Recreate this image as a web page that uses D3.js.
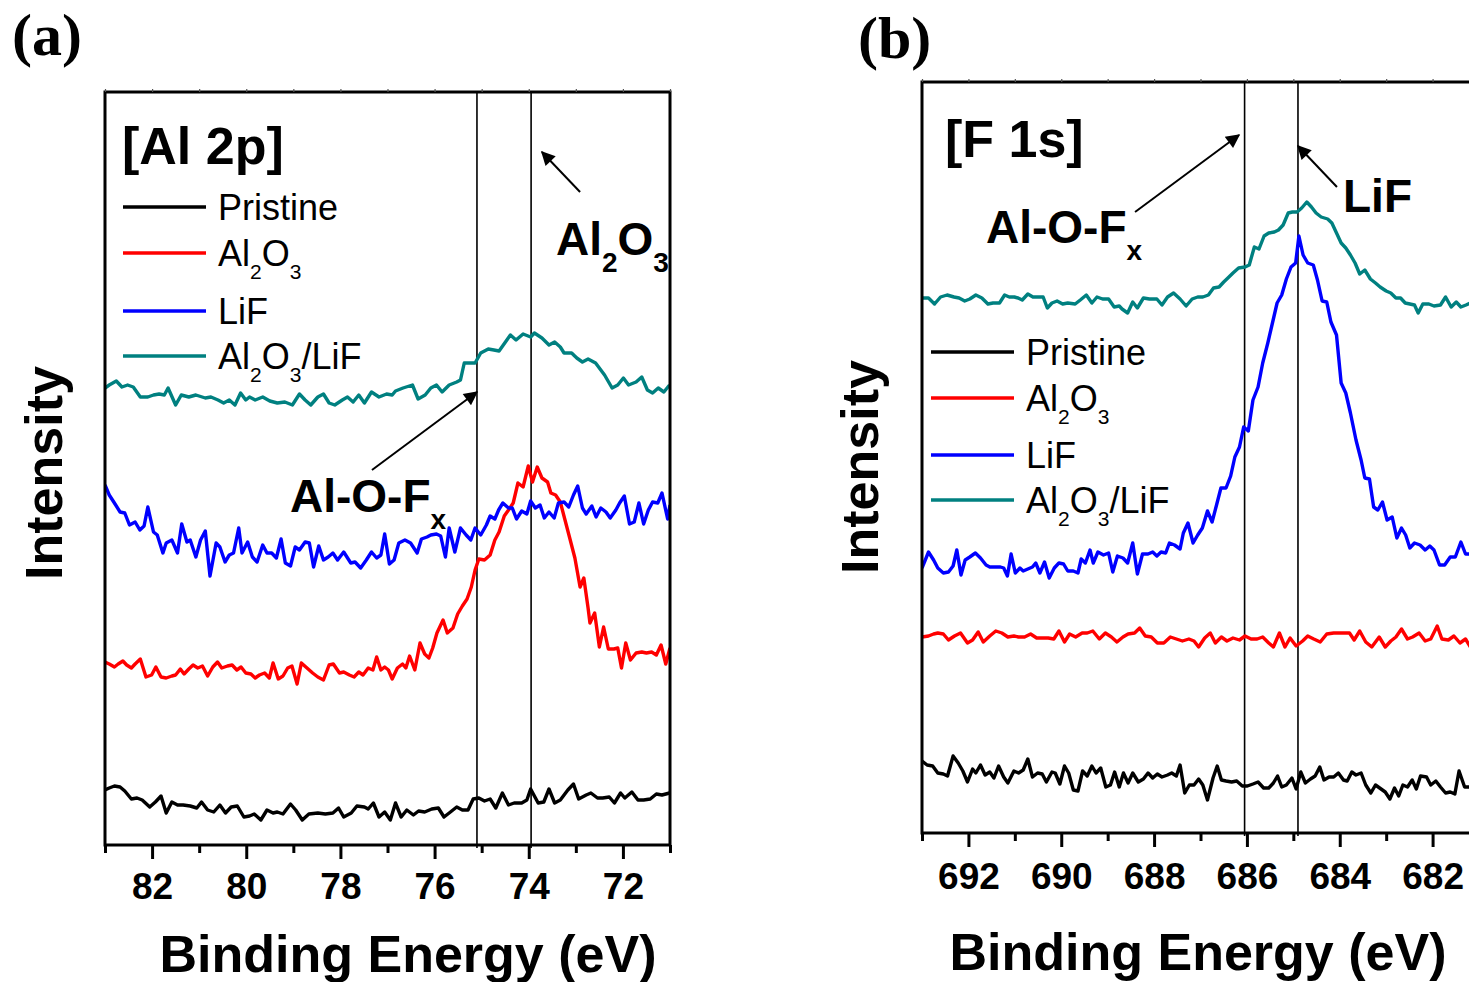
<!DOCTYPE html>
<html>
<head>
<meta charset="utf-8">
<script src="https://cdn.jsdelivr.net/npm/d3@7"></script>
<style>
  body { margin: 0; background: #fff; }
  svg { display: block; font-family: Arial, "Liberation Sans", sans-serif; }
</style>
</head>
<body>
<div id="wrapper"></div>
<script>
/* global d3 */

// series order: Pristine, Al2O3, LiF, Al2O3/LiF
const seriesColors = ["#000000", "#ff0000", "#0000ff", "#008080"];
const legendLabels = [
  [["Pristine"]],
  [["Al"], ["2", "sub"], ["O"], ["3", "sub"]],
  [["LiF"]],
  [["Al"], ["2", "sub"], ["O"], ["3", "sub"], ["/LiF"]],
];

// Al 2p panel (a)
const alMajorTicks = [82, 80, 78, 76, 74, 72];
const alMinorTicks = [83, 81, 79, 77, 75, 73, 71];
const alPeakLines = [75.1, 73.95];

// F 1s panel (b)
const fMajorTicks = [692, 690, 688, 686, 684, 682];
const fMinorTicks = [693, 691, 689, 687, 685, 683, 681];
const fPeakLines = [686.05, 684.9];

// [binding energy eV, intensity a.u.] (offset stacked)
const alPristine = [[83.00,55],[82.91,57],[82.80,59],[82.68,58],[82.58,54],[82.44,46],[82.32,47],[82.21,45],[82.05,38],[81.93,43],[81.81,49],[81.70,32],[81.58,43],[81.46,40],[81.34,40],[81.19,39],[81.05,37],[80.95,43],[80.82,35],[80.69,33],[80.56,40],[80.44,32],[80.32,38],[80.19,39],[80.05,28],[79.93,29],[79.83,31],[79.69,25],[79.56,35],[79.43,32],[79.34,33],[79.22,31],[79.06,41],[78.95,35],[78.81,25],[78.67,31],[78.48,32],[78.32,31],[78.16,32],[78.04,37],[77.93,28],[77.77,32],[77.65,39],[77.49,38],[77.41,36],[77.30,42],[77.18,28],[77.06,33],[76.94,25],[76.83,42],[76.71,28],[76.59,35],[76.45,30],[76.34,34],[76.21,33],[76.06,36],[75.92,37],[75.80,28],[75.69,32],[75.53,38],[75.41,35],[75.29,35],[75.18,46],[75.06,47],[74.94,44],[74.82,46],[74.70,37],[74.56,52],[74.43,40],[74.31,42],[74.15,42],[74.04,45],[73.96,56],[73.80,42],[73.68,43],[73.57,56],[73.45,42],[73.33,45],[73.17,55],[73.05,61],[72.94,46],[72.78,50],[72.68,52],[72.54,47],[72.43,47],[72.29,48],[72.18,42],[72.05,52],[71.96,47],[71.81,53],[71.68,45],[71.56,45],[71.42,46],[71.29,51],[71.17,50],[71.01,52]];

const alAl2O3 = [[83.00,183],[82.91,181],[82.80,178],[82.72,181],[82.62,184],[82.54,180],[82.44,177],[82.36,181],[82.25,186],[82.13,168],[82.01,170],[81.92,178],[81.81,168],[81.70,167],[81.58,169],[81.50,170],[81.40,176],[81.32,171],[81.22,176],[81.13,180],[81.03,177],[80.93,179],[80.82,169],[80.71,178],[80.61,183],[80.52,177],[80.40,179],[80.30,180],[80.20,175],[80.11,178],[80.01,172],[79.90,171],[79.81,167],[79.72,170],[79.61,172],[79.51,167],[79.43,182],[79.32,166],[79.22,169],[79.12,177],[79.03,179],[78.92,161],[78.83,182],[78.71,177],[78.59,172],[78.48,168],[78.36,165],[78.24,180],[78.15,181],[78.02,172],[77.93,173],[77.81,170],[77.71,168],[77.61,173],[77.52,170],[77.41,177],[77.31,175],[77.23,188],[77.14,175],[77.06,178],[76.98,175],[76.90,166],[76.79,177],[76.68,181],[76.61,177],[76.53,189],[76.42,175],[76.31,202],[76.21,191],[76.12,187],[76.04,197],[75.95,212],[75.82,225],[75.73,212],[75.61,217],[75.51,231],[75.41,239],[75.31,246],[75.22,258],[75.14,275],[75.06,286],[74.94,285],[74.82,290],[74.72,305],[74.63,313],[74.52,329],[74.43,335],[74.33,342],[74.23,362],[74.12,358],[74.01,379],[73.92,363],[73.82,378],[73.72,367],[73.60,363],[73.53,352],[73.43,350],[73.33,343],[73.23,325],[73.13,307],[73.02,287],[72.91,258],[72.83,267],[72.74,237],[72.70,222],[72.60,232],[72.50,198],[72.41,218],[72.31,196],[72.19,196],[72.11,197],[72.03,177],[71.94,202],[71.84,185],[71.72,192],[71.60,193],[71.50,192],[71.39,193],[71.29,190],[71.19,200],[71.09,181],[71.00,197]];

const alLiF = [[83.00,360],[82.91,350],[82.80,342],[82.68,333],[82.58,332],[82.48,320],[82.36,323],[82.26,315],[82.17,319],[82.09,338],[81.97,313],[81.89,310],[81.77,292],[81.70,302],[81.58,305],[81.46,292],[81.37,321],[81.26,303],[81.19,305],[81.07,288],[80.97,305],[80.87,314],[80.77,269],[80.64,302],[80.56,298],[80.45,283],[80.36,290],[80.27,292],[80.16,317],[80.09,292],[79.97,303],[79.87,288],[79.77,283],[79.65,300],[79.56,292],[79.46,292],[79.36,287],[79.26,306],[79.17,282],[79.06,279],[78.96,298],[78.87,295],[78.75,303],[78.66,302],[78.57,278],[78.46,299],[78.36,285],[78.26,288],[78.16,292],[78.06,285],[77.93,293],[77.78,282],[77.69,283],[77.57,277],[77.45,285],[77.34,293],[77.23,287],[77.14,290],[77.06,311],[76.96,281],[76.86,285],[76.76,302],[76.63,305],[76.51,302],[76.37,292],[76.28,306],[76.16,308],[76.08,310],[75.96,311],[75.87,309],[75.77,288],[75.69,317],[75.57,293],[75.45,317],[75.33,310],[75.23,305],[75.14,317],[75.02,310],[74.90,320],[74.82,329],[74.72,326],[74.64,335],[74.55,342],[74.43,337],[74.35,337],[74.26,326],[74.15,334],[74.04,331],[73.96,344],[73.86,337],[73.76,340],[73.67,327],[73.57,333],[73.46,327],[73.37,342],[73.25,343],[73.15,338],[73.05,350],[72.96,359],[72.86,337],[72.78,331],[72.66,339],[72.57,328],[72.47,337],[72.36,333],[72.27,327],[72.15,335],[72.07,342],[71.97,349],[71.86,321],[71.76,323],[71.66,342],[71.56,321],[71.46,335],[71.37,343],[71.26,342],[71.17,352],[71.05,326],[71.00,340]];

const alMixed = [[83.00,457],[82.91,460],[82.76,464],[82.64,458],[82.52,460],[82.40,458],[82.25,448],[82.09,448],[81.97,450],[81.85,451],[81.74,450],[81.66,457],[81.50,440],[81.38,450],[81.22,448],[81.07,450],[80.87,447],[80.75,448],[80.60,445],[80.48,442],[80.36,445],[80.24,440],[80.12,452],[80.01,445],[79.93,448],[79.81,445],[79.65,448],[79.50,444],[79.34,442],[79.18,443],[79.02,440],[78.87,451],[78.75,445],[78.63,440],[78.48,448],[78.36,451],[78.24,442],[78.12,440],[77.96,445],[77.85,448],[77.73,443],[77.61,450],[77.49,442],[77.34,453],[77.18,448],[77.02,451],[76.90,450],[76.83,454],[76.67,457],[76.47,460],[76.35,446],[76.20,450],[76.08,457],[75.96,460],[75.84,453],[75.69,460],[75.53,463],[75.45,465],[75.37,482],[75.25,482],[75.14,482],[75.02,492],[74.86,496],[74.74,495],[74.63,494],[74.51,502],[74.39,510],[74.27,505],[74.12,511],[73.96,508],[73.88,512],[73.72,507],[73.57,500],[73.45,503],[73.33,498],[73.25,492],[73.09,492],[72.98,487],[72.86,483],[72.74,486],[72.58,482],[72.39,470],[72.23,457],[72.11,460],[71.99,467],[71.88,460],[71.72,463],[71.60,468],[71.48,455],[71.37,452],[71.25,457],[71.13,453],[71.01,460]];

const fPristine = [[693.00,72],[692.89,68],[692.77,67],[692.66,60],[692.54,59],[692.45,57],[692.33,77],[692.22,70],[692.12,62],[692.02,51],[691.91,64],[691.84,60],[691.74,68],[691.64,58],[691.54,61],[691.45,55],[691.35,67],[691.24,56],[691.15,50],[691.02,62],[690.92,60],[690.82,63],[690.72,74],[690.62,56],[690.51,60],[690.41,59],[690.32,51],[690.20,61],[690.13,60],[690.03,49],[689.93,67],[689.84,60],[689.74,43],[689.64,42],[689.54,62],[689.44,57],[689.34,67],[689.25,60],[689.15,65],[689.04,46],[688.94,48],[688.85,61],[688.75,46],[688.66,60],[688.56,50],[688.46,60],[688.34,51],[688.23,54],[688.13,60],[688.03,55],[687.93,59],[687.83,56],[687.71,58],[687.62,60],[687.52,57],[687.44,68],[687.34,40],[687.24,48],[687.14,48],[687.04,54],[686.95,48],[686.85,33],[686.73,55],[686.64,67],[686.55,53],[686.45,52],[686.33,51],[686.22,52],[686.10,47],[685.99,47],[685.87,49],[685.76,51],[685.64,45],[685.53,45],[685.43,50],[685.34,57],[685.25,46],[685.15,48],[685.03,55],[684.94,44],[684.84,61],[684.74,50],[684.63,54],[684.53,57],[684.43,66],[684.34,53],[684.23,56],[684.13,56],[684.03,60],[683.92,53],[683.84,52],[683.74,61],[683.65,58],[683.54,60],[683.44,48],[683.33,40],[683.23,48],[683.11,44],[683.02,41],[682.92,34],[682.82,45],[682.73,37],[682.64,48],[682.54,46],[682.44,53],[682.35,44],[682.26,57],[682.13,56],[682.04,48],[681.93,52],[681.83,46],[681.72,40],[681.62,41],[681.52,39],[681.43,62],[681.31,46],[681.16,46]];

const fAl2O3 = [[693.00,196],[692.86,197],[692.75,199],[692.66,200],[692.54,199],[692.43,193],[692.30,197],[692.17,200],[692.02,190],[691.91,193],[691.79,201],[691.68,191],[691.54,197],[691.41,202],[691.28,200],[691.15,196],[691.02,197],[690.92,196],[690.79,196],[690.66,199],[690.53,195],[690.41,195],[690.28,195],[690.16,194],[690.05,202],[689.93,191],[689.82,199],[689.69,196],[689.55,200],[689.44,200],[689.32,202],[689.18,194],[689.05,200],[688.92,196],[688.80,191],[688.67,196],[688.56,199],[688.42,200],[688.31,205],[688.19,197],[688.06,196],[687.93,190],[687.79,190],[687.65,196],[687.52,194],[687.39,192],[687.25,194],[687.14,192],[687.04,186],[686.91,195],[686.79,200],[686.68,190],[686.55,196],[686.43,192],[686.30,195],[686.16,193],[686.04,197],[685.91,194],[685.78,194],[685.66,196],[685.53,190],[685.43,186],[685.30,200],[685.18,186],[685.07,195],[684.94,187],[684.80,192],[684.69,197],[684.56,194],[684.42,191],[684.28,199],[684.13,200],[683.96,200],[683.79,200],[683.69,193],[683.57,202],[683.44,191],[683.31,186],[683.15,196],[683.02,186],[682.90,192],[682.79,196],[682.67,204],[682.54,194],[682.43,196],[682.29,200],[682.16,192],[682.04,194],[681.90,207],[681.80,194],[681.66,193],[681.54,197],[681.41,190],[681.29,194],[681.16,184]];

const fLiF = [[693.00,265],[692.86,281],[692.75,273],[692.66,265],[692.54,260],[692.43,261],[692.33,267],[692.25,283],[692.16,258],[692.07,273],[691.97,276],[691.85,280],[691.74,275],[691.62,268],[691.54,266],[691.43,266],[691.31,266],[691.24,265],[691.16,257],[691.08,279],[690.99,260],[690.89,265],[690.82,262],[690.72,264],[690.62,266],[690.55,270],[690.46,260],[690.36,271],[690.26,255],[690.15,265],[690.05,270],[689.95,269],[689.86,262],[689.74,262],[689.64,260],[689.57,274],[689.48,270],[689.38,283],[689.31,270],[689.21,281],[689.09,278],[688.98,280],[688.89,261],[688.79,277],[688.67,275],[688.57,270],[688.46,290],[688.36,259],[688.25,279],[688.13,279],[688.03,281],[687.94,277],[687.85,281],[687.75,280],[687.67,290],[687.56,288],[687.44,284],[687.37,300],[687.27,310],[687.16,290],[687.06,298],[686.96,305],[686.85,322],[686.75,311],[686.66,327],[686.56,345],[686.45,345],[686.35,357],[686.26,376],[686.16,386],[686.07,406],[685.97,402],[685.87,433],[685.76,446],[685.66,470],[685.55,490],[685.45,510],[685.35,530],[685.25,538],[685.15,554],[685.05,566],[684.95,570],[684.88,597],[684.79,578],[684.69,570],[684.57,568],[684.48,553],[684.38,532],[684.28,531],[684.19,511],[684.07,498],[683.97,450],[683.87,440],[683.77,420],[683.65,393],[683.54,373],[683.46,355],[683.36,354],[683.27,326],[683.18,323],[683.08,331],[682.98,313],[682.87,316],[682.77,295],[682.67,305],[682.58,298],[682.49,285],[682.39,290],[682.27,288],[682.16,283],[682.06,287],[681.97,283],[681.85,268],[681.74,268],[681.62,276],[681.51,276],[681.39,291],[681.29,279],[681.16,279]];

const fMixed = [[693.00,535],[692.86,535],[692.73,529],[692.60,536],[692.46,538],[692.31,536],[692.20,535],[692.08,532],[691.97,534],[691.84,538],[691.71,535],[691.58,529],[691.47,530],[691.33,530],[691.22,538],[691.12,536],[691.01,536],[690.93,535],[690.84,533],[690.72,539],[690.61,536],[690.49,536],[690.39,536],[690.30,525],[690.20,530],[690.09,532],[689.97,529],[689.86,530],[689.70,529],[689.59,533],[689.46,538],[689.34,530],[689.23,536],[689.11,534],[688.98,534],[688.86,526],[688.75,527],[688.69,524],[688.57,520],[688.46,531],[688.36,525],[688.23,535],[688.10,534],[687.94,534],[687.83,528],[687.71,536],[687.58,540],[687.44,534],[687.31,527],[687.18,534],[687.06,536],[686.95,536],[686.83,538],[686.72,545],[686.60,546],[686.50,551],[686.41,555],[686.30,560],[686.18,565],[686.04,566],[685.95,568],[685.84,586],[685.74,584],[685.63,597],[685.53,600],[685.41,601],[685.32,603],[685.22,608],[685.11,620],[685.02,621],[684.92,621],[684.82,625],[684.71,631],[684.61,626],[684.51,620],[684.40,616],[684.26,614],[684.17,610],[684.07,600],[683.97,590],[683.87,585],[683.77,578],[683.67,570],[683.57,559],[683.46,563],[683.34,554],[683.23,550],[683.13,546],[683.00,542],[682.90,540],[682.79,535],[682.69,535],[682.59,530],[682.49,529],[682.39,528],[682.31,520],[682.21,529],[682.08,529],[681.97,527],[681.83,528],[681.72,536],[681.60,526],[681.49,531],[681.39,526],[681.28,528],[681.14,531]];

const dimensions = { width: 1469, height: 982 };

const panels = [
  {
    key: "a", series: [alPristine, alAl2O3, alLiF, alMixed],
    xDomain: [83, 71], yDomain: [0, 753],
    left: 105, right: 670, top: 92, bottom: 845,
    majors: alMajorTicks, minors: alMinorTicks, peaks: alPeakLines,
    tickBaseline: 899,
    tag: "(a)", tagX: 12, tagY: 55,
    title: "[Al 2p]", titleX: 122, titleY: 164,
    legendX: 123, legendRows: [207, 253, 311, 356],
    ylabX: 62, ylabY: 473,
    xlabX: 408, xlabY: 972,
  },
  {
    key: "b", series: [fPristine, fAl2O3, fLiF, fMixed],
    xDomain: [693, 681], yDomain: [0, 751],
    left: 922, right: 1479, top: 82, bottom: 833,
    majors: fMajorTicks, minors: fMinorTicks, peaks: fPeakLines,
    tickBaseline: 889,
    tag: "(b)", tagX: 858, tagY: 58,
    title: "[F 1s]", titleX: 945, titleY: 157,
    legendX: 931, legendRows: [352, 398, 455, 500],
    ylabX: 878, ylabY: 467,
    xlabX: 1198, xlabY: 970,
  },
];

const svg = d3.select("#wrapper")
  .append("svg")
  .attr("width", dimensions.width)
  .attr("height", dimensions.height)
  .style("background", "#fff");

const defs = svg.append("defs");
defs.append("marker")
  .attr("id", "arrowHead")
  .attr("viewBox", "0 0 10 10")
  .attr("refX", 9).attr("refY", 5)
  .attr("markerUnits", "userSpaceOnUse")
  .attr("markerWidth", 18).attr("markerHeight", 14)
  .attr("orient", "auto")
  .append("path")
  .attr("d", "M0,0 L10,5 L0,10 Z")
  .attr("fill", "#000");

// text with sub-scripts; parts = [[text, "sub"?], ...]
function richText(g, parts, x, y, size, subSize, subDy, weight) {
  const t = g.append("text")
    .attr("x", x).attr("y", y)
    .attr("font-size", size)
    .attr("font-weight", weight)
    .attr("fill", "#000");
  let down = false;
  parts.forEach(([txt, kind]) => {
    const isSub = kind === "sub";
    const span = t.append("tspan").text(txt)
      .attr("font-size", isSub ? subSize : size);
    if (isSub && !down) { span.attr("dy", subDy); down = true; }
    else if (!isSub && down) { span.attr("dy", -subDy); down = false; }
  });
  return t;
}

const drawPanel = (p) => {
  const xScale = d3.scaleLinear().domain(p.xDomain).range([p.left, p.right]);
  const yScale = d3.scaleLinear().domain(p.yDomain).range([p.bottom, p.top]);
  const g = svg.append("g").attr("class", "panel-" + p.key);

  defs.append("clipPath").attr("id", "clip-" + p.key)
    .append("rect")
    .attr("x", p.left).attr("y", p.top)
    .attr("width", p.right - p.left).attr("height", p.bottom - p.top);

  // peak position lines
  g.selectAll(".peak")
    .data(p.peaks)
    .enter()
    .append("line")
    .attr("x1", (d) => xScale(d)).attr("x2", (d) => xScale(d))
    .attr("y1", p.top).attr("y2", p.bottom + 3)
    .attr("stroke", "#000")
    .attr("stroke-width", 1.6);

  const lineGen = d3.line()
    .x((d) => xScale(d[0]))
    .y((d) => yScale(d[1]));

  g.append("g")
    .attr("clip-path", `url(#clip-${p.key})`)
    .selectAll("path")
    .data(p.series)
    .enter()
    .append("path")
    .attr("d", lineGen)
    .attr("fill", "none")
    .attr("stroke", (d, i) => seriesColors[i])
    .attr("stroke-width", 3.4)
    .attr("stroke-linejoin", "round");

  // frame
  g.append("rect")
    .attr("x", p.left).attr("y", p.top)
    .attr("width", p.right - p.left).attr("height", p.bottom - p.top)
    .attr("fill", "none")
    .attr("stroke", "#000")
    .attr("stroke-width", 3);

  const majorAxis = g.append("g")
    .attr("transform", `translate(0,${p.bottom})`)
    .call(d3.axisBottom(xScale).tickValues(p.majors).tickSize(14).tickFormat(d3.format("d")));
  majorAxis.select(".domain").remove();
  majorAxis.selectAll("line").attr("stroke-width", 3);
  majorAxis.selectAll("text")
    .attr("y", p.tickBaseline - p.bottom)
    .attr("dy", null)
    .attr("font-size", 37)
    .attr("font-weight", "bold")
    .attr("font-family", "Arial, 'Liberation Sans', sans-serif")
    .attr("fill", "#000");

  const minorAxis = g.append("g")
    .attr("transform", `translate(0,${p.bottom})`)
    .call(d3.axisBottom(xScale).tickValues(p.minors).tickSize(8).tickFormat(""));
  minorAxis.select(".domain").remove();
  minorAxis.selectAll("line").attr("stroke-width", 3);

  const topAxis = g.append("g")
    .attr("transform", `translate(0,${p.top})`)
    .call(d3.axisTop(xScale).tickValues(p.majors.concat(p.minors)).tickSize(3).tickFormat(""));
  topAxis.select(".domain").remove();
  topAxis.selectAll("line").attr("stroke-width", 1.2).attr("stroke", "#555");

  // panel tag
  g.append("text")
    .attr("x", p.tagX).attr("y", p.tagY)
    .attr("font-family", "'Liberation Serif', 'Times New Roman', serif")
    .attr("font-weight", "bold")
    .attr("font-size", 60)
    .text(p.tag);

  g.append("text")
    .attr("x", p.titleX).attr("y", p.titleY)
    .attr("font-weight", "bold")
    .attr("font-size", 52)
    .text(p.title);

  // legend
  p.legendRows.forEach((ly, i) => {
    g.append("line")
      .attr("x1", p.legendX).attr("x2", p.legendX + 83)
      .attr("y1", ly).attr("y2", ly)
      .attr("stroke", seriesColors[i])
      .attr("stroke-width", 3.4);
    richText(g, legendLabels[i], p.legendX + 95, ly + 13, 36, 21, 13, "normal");
  });

  g.append("text")
    .attr("transform", `translate(${p.ylabX},${p.ylabY}) rotate(-90)`)
    .attr("text-anchor", "middle")
    .attr("font-weight", "bold")
    .attr("font-size", 52)
    .text("Intensity");

  g.append("text")
    .attr("x", p.xlabX).attr("y", p.xlabY)
    .attr("text-anchor", "middle")
    .attr("font-weight", "bold")
    .attr("font-size", 52)
    .text("Binding Energy (eV)");

  return { xScale, yScale, g };
};

const arrow = (g, xScale, yScale, from, to) => {
  g.append("line")
    .attr("x1", xScale(from[0])).attr("y1", yScale(from[1]))
    .attr("x2", xScale(to[0])).attr("y2", yScale(to[1]))
    .attr("stroke", "#000")
    .attr("stroke-width", 2)
    .attr("marker-end", "url(#arrowHead)");
};

const pa = drawPanel(panels[0]);
const pb = drawPanel(panels[1]);

// panel (a) annotations
richText(pa.g, [["Al"], ["2", "sub"], ["O"], ["3", "sub"]], 556, 255, 46, 28, 17, "bold");
arrow(pa.g, pa.xScale, pa.yScale, [72.91, 653], [73.72, 693]);
richText(pa.g, [["Al-O-F"], ["x", "sub"]], 290, 512, 46, 28, 17, "bold");
arrow(pa.g, pa.xScale, pa.yScale, [77.33, 375], [75.10, 453]);

// panel (b) annotations
richText(pb.g, [["Al-O-F"], ["x", "sub"]], 986, 243, 46, 28, 17, "bold");
arrow(pb.g, pb.xScale, pb.yScale, [688.41, 621], [686.17, 698]);
pb.g.append("text")
  .attr("x", 1343).attr("y", 212)
  .attr("font-weight", "bold")
  .attr("font-size", 46)
  .text("LiF");
arrow(pb.g, pb.xScale, pb.yScale, [684.06, 646], [684.90, 687]);
</script>
</body>
</html>
